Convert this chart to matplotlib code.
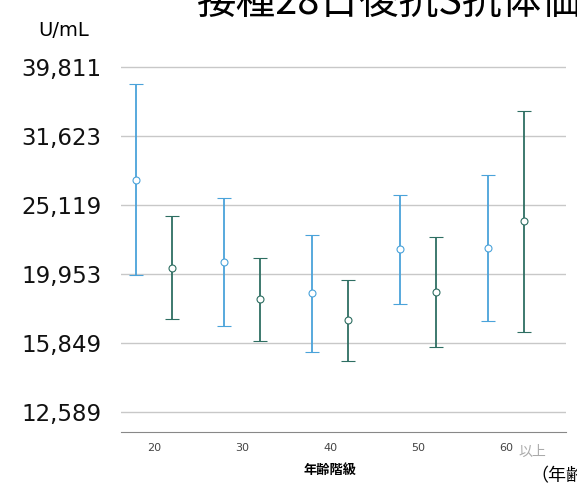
import numpy as np
import matplotlib
matplotlib.use("Agg")
import matplotlib.pyplot as plt

plt.rcParams['font.family'] = ['Noto Sans CJK JP', 'DejaVu Sans']

# =========================================================
# DATA (U/mL)
# =========================================================
age_labels = ["20", "30", "40", "50", "60"]

blue_mean = [27360, 20750, 18710, 21670, 21770]
blue_low = [19890, 16760, 15390, 18030, 17040]
blue_high = [37620, 25710, 22700, 26000, 27790]

teal_mean = [20380, 18340, 17120, 18810, 23790]
teal_low = [17190, 15950, 14940, 15650, 16460]
teal_high = [24210, 21030, 19580, 22590, 34410]

y_ticks = [12589, 15849, 19953, 25119, 31623, 39811]

BLUE = "#4aa3da"
TEAL = "#2e6e62"

fig = plt.figure(figsize=(5.77, 4.84), dpi=100)
ax = fig.add_axes([121 / 577, 52 / 484, 445 / 577, 372 / 484])

x = np.arange(len(age_labels))
off = 18 / 88


def draw(xs, mean, low, high, color):
    mean = np.array(mean)
    err = [mean - np.array(low), np.array(high) - mean]
    ax.errorbar(xs, mean, yerr=err, fmt="o", mfc="white", mec=color,
                ms=5, mew=0.8, ecolor=color, elinewidth=1.3,
                capsize=5, capthick=1.3, zorder=3)


draw(x - off, blue_mean, blue_low, blue_high, BLUE)
draw(x + off, teal_mean, teal_low, teal_high, TEAL)

ax.set_yscale("log")
ax.set_ylim(10 ** 4.071, 10 ** 4.6105)
ax.set_xlim(-0.375, 4.68)
ax.set_yticks(y_ticks)
ax.set_yticklabels([f"{v:,}" for v in y_ticks], fontsize=16.5,
                   family=["DejaVu Sans"], color="#111111")
ax.minorticks_off()
ax.set_xticks(x)
ax.set_xticklabels(age_labels, fontsize=8, color="#444444",
                   family=["DejaVu Sans"])
ax.tick_params(axis="both", length=0, pad=8)
ax.tick_params(axis="y", pad=14)

ax.grid(axis="y", color="#c8c8c8", linewidth=1.0)
ax.set_axisbelow(True)
for s in ["top", "right", "left"]:
    ax.spines[s].set_visible(False)
ax.spines["bottom"].set_color("#888888")

fig.text(38 / 577, 1 - 30 / 484, "U/mL", fontsize=14, va="center",
         family=["DejaVu Sans"])
fig.text(197 / 577, 1 - 14 / 484, "接種28日後抗S抗体価", fontsize=28.5,
         va="baseline", ha="left")
fig.text(518 / 577, 1 - 452 / 484, "以上", fontsize=10, color="#aaaaaa",
         va="center")
fig.text(330 / 577, 1 - 470 / 484, "年齢階級", fontsize=9.5,
         fontweight="bold", ha="center", va="center")
fig.text(530 / 577, 1 - 476 / 484, "（年齢", fontsize=13, va="center")

fig.savefig("out.png", dpi=100)
